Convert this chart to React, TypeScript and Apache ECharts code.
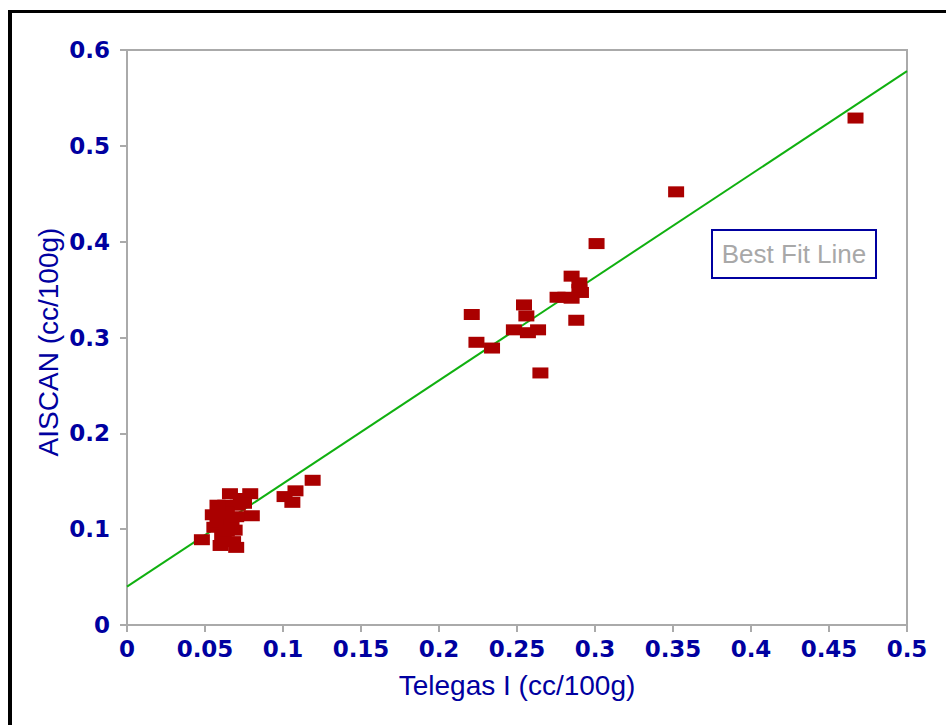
import React, { useEffect, useRef } from "react";
import * as echarts from "echarts";

// Telegas I (cc/100g) vs AISCAN (cc/100g)
const telegasX = [
  0.467, 0.352, 0.301,
  0.285, 0.290, 0.290, 0.291, 0.285, 0.276, 0.281, 0.288,
  0.221, 0.224, 0.234, 0.2545, 0.256, 0.248, 0.257, 0.2635, 0.265,
  0.048, 0.066, 0.079, 0.055, 0.056, 0.080, 0.060, 0.070,
  0.063, 0.071, 0.066, 0.061, 0.069, 0.073, 0.058, 0.064, 0.067, 0.062,
  0.058, 0.070, 0.075, 0.064, 0.068,
  0.101, 0.106, 0.108, 0.119,
];
const aiscanY = [
  0.529, 0.452, 0.398,
  0.364, 0.357, 0.350, 0.347, 0.341, 0.342, 0.342, 0.318,
  0.324, 0.295, 0.289, 0.334, 0.3225, 0.308, 0.305, 0.308, 0.263,
  0.089, 0.137, 0.137, 0.115, 0.102, 0.114, 0.083, 0.081,
  0.125, 0.125, 0.110, 0.094, 0.099, 0.132, 0.107, 0.118, 0.104, 0.090,
  0.125, 0.113, 0.127, 0.098, 0.087,
  0.134, 0.128, 0.140, 0.151,
];

const fitX = [0, 0.5];
const fitY = [0.04, 0.578];

const xTicks = { min: 0, max: 0.5, interval: 0.05 };
const yTicks = { min: 0, max: 0.6, interval: 0.1 };

const xTitle = "Telegas I (cc/100g)";
const yTitle = "AISCAN (cc/100g)";
const legendLabel = "Best Fit Line";

const BLUE = "#0000A0";
const GRAY = "#aaaaaa";

export default function App() {
  const ref = useRef<HTMLDivElement>(null);

  useEffect(() => {
    if (!ref.current) return;
    const chart = echarts.init(ref.current, null, { renderer: "svg" });
    const points = telegasX.map((x, i) => [x, aiscanY[i]]);
    const line = fitX.map((x, i) => [x, fitY[i]]);
    chart.setOption({
      animation: false,
      backgroundColor: "#ffffff",
      grid: {
        left: 127,
        top: 50,
        width: 780,
        height: 575,
        show: true,
        borderColor: GRAY,
        borderWidth: 2,
        backgroundColor: "transparent",
      },
      xAxis: {
        type: "value",
        min: xTicks.min,
        max: xTicks.max,
        interval: xTicks.interval,
        axisLine: { show: true, lineStyle: { color: GRAY, width: 2 } },
        axisTick: { show: true, length: 7, lineStyle: { color: GRAY, width: 2 } },
        splitLine: { show: false },
        axisLabel: {
          color: BLUE,
          fontFamily: "DejaVu Sans",
          fontWeight: "bold",
          fontSize: 23,
          margin: 12,
          showMaxLabel: true,
          showMinLabel: true,
        },
      },
      yAxis: {
        type: "value",
        min: yTicks.min,
        max: yTicks.max,
        interval: yTicks.interval,
        axisLine: { show: true, lineStyle: { color: GRAY, width: 2 } },
        axisTick: { show: true, length: 7, lineStyle: { color: GRAY, width: 2 } },
        splitLine: { show: false },
        axisLabel: {
          color: BLUE,
          fontFamily: "DejaVu Sans",
          fontWeight: "bold",
          fontSize: 23,
          margin: 17,
        },
      },
      series: [
        {
          name: legendLabel,
          type: "line",
          data: line,
          symbol: "none",
          lineStyle: { color: "#10B010", width: 2 },
          z: 2,
        },
        {
          name: "Data",
          type: "scatter",
          data: points,
          symbol: "rect",
          symbolSize: [16, 11],
          itemStyle: { color: "#AA0000", opacity: 1 },
          z: 3,
        },
      ],
      graphic: [
        {
          type: "text",
          x: 517,
          y: 685,
          style: {
            text: xTitle,
            fill: BLUE,
            font: "28px 'Liberation Sans'",
            textAlign: "center",
            textVerticalAlign: "middle",
          },
        },
        {
          type: "text",
          x: 48,
          y: 342,
          rotation: Math.PI / 2,
          style: {
            text: yTitle,
            fill: BLUE,
            font: "28px 'Liberation Sans'",
            textAlign: "center",
            textVerticalAlign: "middle",
          },
        },
        {
          type: "rect",
          shape: { x: 712, y: 230, width: 164, height: 48 },
          style: { fill: "#ffffff", stroke: BLUE, lineWidth: 2 },
        },
        {
          type: "text",
          x: 794,
          y: 254,
          style: {
            text: legendLabel,
            fill: "#a8a8a8",
            font: "26px 'Liberation Sans'",
            textAlign: "center",
            textVerticalAlign: "middle",
          },
        },
      ],
    });
    return () => chart.dispose();
  }, []);

  return (
    <div style={{ position: "fixed", left: 0, top: 0, width: 946, height: 725, background: "#fff", overflow: "hidden" }}>
      <div ref={ref} style={{ position: "absolute", left: 0, top: 0, width: 946, height: 725 }} />
      <div
        style={{
          position: "absolute",
          left: 8,
          top: 10,
          width: 938,
          height: 715,
          boxSizing: "border-box",
          borderLeft: "4px solid #000",
          borderTop: "3px solid #000",
          pointerEvents: "none",
        }}
      />
    </div>
  );
}
